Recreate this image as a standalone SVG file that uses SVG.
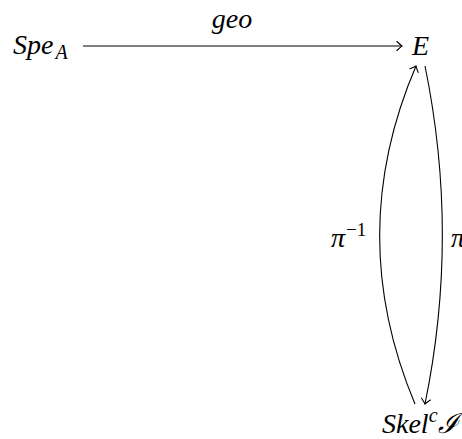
<svg xmlns="http://www.w3.org/2000/svg" width="462" height="439" viewBox="0 0 462 439">
<defs>
<style>
.edge{fill:none;stroke:#000;stroke-width:1.1}
</style>
<marker id="ah" viewBox="-6 -6 8 12" markerWidth="8" markerHeight="12" refX="0" refY="0" orient="auto" markerUnits="userSpaceOnUse">
<path d="M-5,-4.5 Q-1.5,-1 0,0 Q-1.5,1 -5,4.5" fill="none" stroke="#000" stroke-width="1.1" stroke-linecap="round"/>
</marker>
</defs>
<rect width="462" height="439" fill="#fff"/>
<g id="connectors">
<line class="edge" x1="83" y1="46" x2="402" y2="46" marker-end="url(#ah)"/>
<path class="edge" d="M415,404 C368,292 368,178 416,66" marker-end="url(#ah)"/>
<path class="edge" d="M425,66 C448,178 448,292 425,404" marker-end="url(#ah)"/>
</g>
<g font-family="Liberation Serif, DejaVu Serif, serif" font-size="28" fill="#000" font-style="italic">
<g id="labels">
<text x="232" y="28" text-anchor="middle">geo</text>
<text x="331" y="247">π<tspan font-size="19" font-style="normal" dx="1" dy="-11">−1</tspan></text>
<text x="451" y="247">π</text>
</g>
<g id="node-spe">
<text x="13" y="54">Spe<tspan font-size="20" dx="2" dy="5">A</tspan></text>
</g>
<g id="node-e">
<text x="412" y="55">E</text>
</g>
<g id="node-skel">
<text x="382" y="433">Skel<tspan font-size="20" dy="-11">c</tspan><tspan dy="11">ℐ</tspan></text>
</g>
</g>
</svg>
